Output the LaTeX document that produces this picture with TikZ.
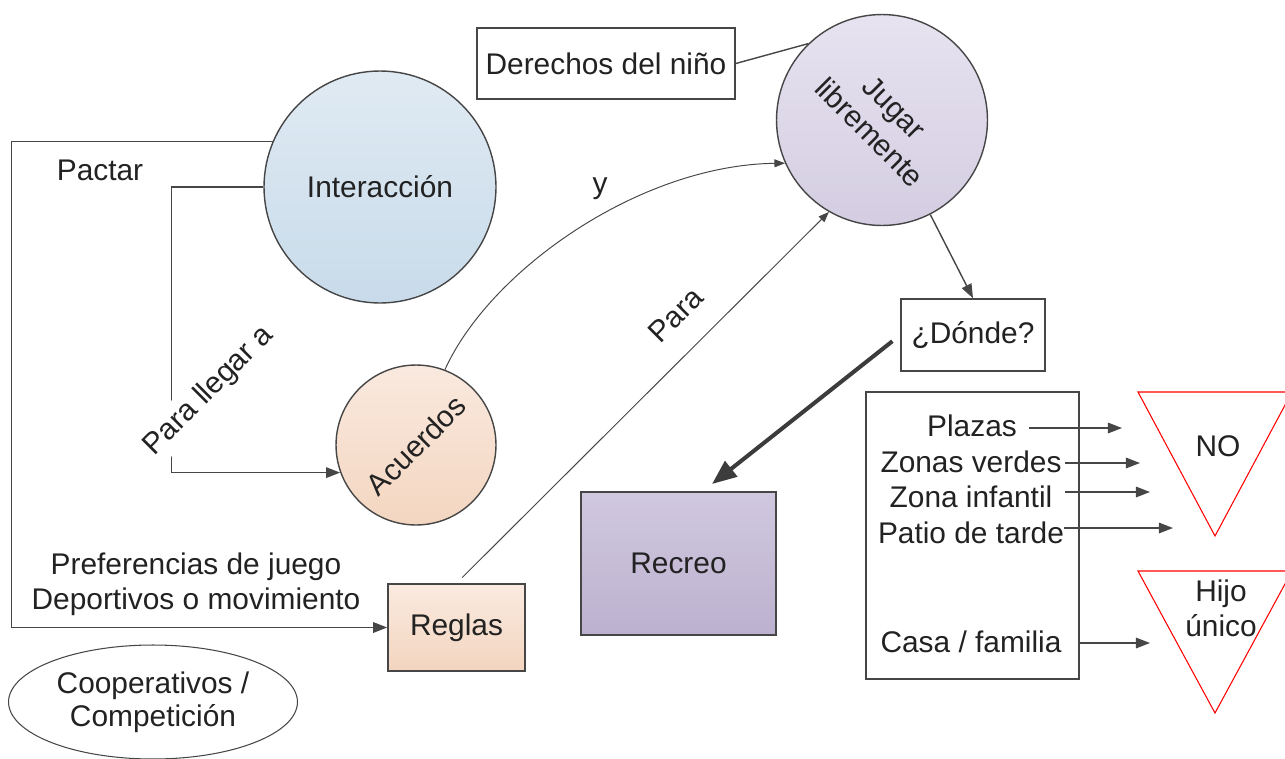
\documentclass[tikz,border=0pt]{standalone}
\usepackage{fontspec}
\setmainfont{Liberation Sans}
\usetikzlibrary{arrows.meta, shapes.geometric}
\definecolor{linegray}{RGB}{70,70,70}
\definecolor{textgray}{RGB}{34,34,34}
\definecolor{interTop}{RGB}{224,234,243}
\definecolor{interBot}{RGB}{200,219,234}
\definecolor{lilacTop}{RGB}{232,228,241}
\definecolor{lilacBot}{RGB}{211,204,225}
\definecolor{peachTop}{RGB}{250,234,224}
\definecolor{peachBot}{RGB}{243,213,191}
\definecolor{recreoTop}{RGB}{208,200,223}
\definecolor{recreoBot}{RGB}{188,177,207}

\begin{document}
\begin{tikzpicture}[x=0.02cm, y=-0.02cm, >={Triangle[length=8pt,width=6pt]},
    every node/.style={font=\fontsize{17}{20}\selectfont, text=textgray},
    conn/.style={draw=linegray, line width=0.8pt, ->},
    thinconn/.style={draw=linegray, line width=0.55pt, -{Triangle[length=6pt,width=4.5pt]}},
    box/.style={draw=linegray, line width=0.9pt, rectangle, inner sep=0pt},
    bubble/.style={draw=linegray, line width=0.8pt, circle, inner sep=0pt, align=center},
    warn/.style={draw=red, line width=0.6pt}]
    \useasboundingbox (0,0) rectangle (1285,758);

    % Main bubbles
    \node[bubble, minimum size=4.64cm, top color=interTop, bottom color=interBot] (inter) at (380,187) {Interacción};
    \node[bubble, minimum size=4.22cm, top color=lilacTop, bottom color=lilacBot, rotate=-45] (jug) at (882,120) {Jugar\\libremente};
    \node[bubble, minimum size=3.2cm, top color=peachTop, bottom color=peachBot, rotate=45] (acu) at (416,445) {Acuerdos};

    % Boxes
    \node[box, minimum width=5.16cm, minimum height=1.42cm] (der) at (606,63.5) {Derechos del niño};
    \node[box, minimum width=2.88cm, minimum height=1.44cm] (donde) at (973,335) {¿Dónde?};
    \node[box, minimum width=3.9cm, minimum height=2.86cm, top color=recreoTop, bottom color=recreoBot] (recreo) at (678.5,563.5) {Recreo};
    \node[box, minimum width=2.74cm, minimum height=1.74cm, top color=peachTop, bottom color=peachBot] (reglas) at (456.5,627.5) {Reglas};
    \node[box, minimum width=4.26cm, minimum height=5.74cm] (lugares) at (972.5,535.5) {};

    % Free texts
    \node (pactar) at (100,170) {Pactar};
    \node[align=center] (pref) at (196,584) {Preferencias de juego\\Deportivos o movimiento};
    \node[ellipse, draw=linegray, line width=0.6pt, minimum width=5.74cm, minimum height=2.28cm, align=center,
          font=\fontsize{17}{19}\selectfont] (coop) at (153,702) {Cooperativos /\\Competición};

    % Places
    \node[inner xsep=7pt] (plazas) at (972,426) {Plazas};
    \node[inner xsep=2pt] (zverdes) at (971,462) {Zonas verdes};
    \node[inner xsep=7pt] (zinf) at (971,497) {Zona infantil};
    \node[inner xsep=0pt] (patio) at (971,533) {Patio de tarde};
    \node[inner xsep=2pt] (casa) at (971,642) {Casa / familia};

    % Warning triangles
    \draw[warn] (1138,392) -- (1292,392) -- (1215,536) -- cycle;
    \draw[warn] (1138,571) -- (1292,571) -- (1215,713) -- cycle;
    \node (no) at (1218,446) {NO};
    \node[align=center] (hijo) at (1221,608) {Hijo\\único};

    \coordinate (noA) at (1122,428);
    \coordinate (noB) at (1140,463);
    \coordinate (noC) at (1150,492);
    \coordinate (noD) at (1173,528);
    \coordinate (noE) at (1150,643);
    \coordinate (rtip) at (712,484);

    % Connectors
    \draw[conn] (inter.157) -- ++(-261,0) |- (reglas.west);
    \draw[conn] (inter.west) -- ++(-92,0) |- (acu.155);
    \node[fill=white, rotate=45] (llegar) at (209,391) {Para llegar a};
    \draw[thinconn] (acu.24) .. controls (490,270) and (640,165) .. (jug.249);
    \node (yy) at (600,189) {y};
    \draw[thinconn, shorten <=0.16cm] (reglas.north) -- (jug.285);
    \node[rotate=45] (para) at (676,315) {Para};
    \draw[draw=linegray, line width=0.8pt] (der.east) -- (jug.179);
    \draw[conn] (jug) -- (donde.north);
    \draw[draw=linegray!85!black, line width=2.3pt, -{Triangle[length=14pt,width=11pt]}, shorten <=0.2cm] (donde.west) -- (rtip);

    % Arrows to the triangles
    \draw[conn] (plazas.east |- noA) -- (noA);
    \draw[conn] (zverdes.east |- noB) -- (noB);
    \draw[conn] (zinf.east |- noC) -- (noC);
    \draw[conn] (patio.east |- noD) -- (noD);
    \draw[conn] (lugares.east |- noE) -- (noE);
\end{tikzpicture}
\end{document}
